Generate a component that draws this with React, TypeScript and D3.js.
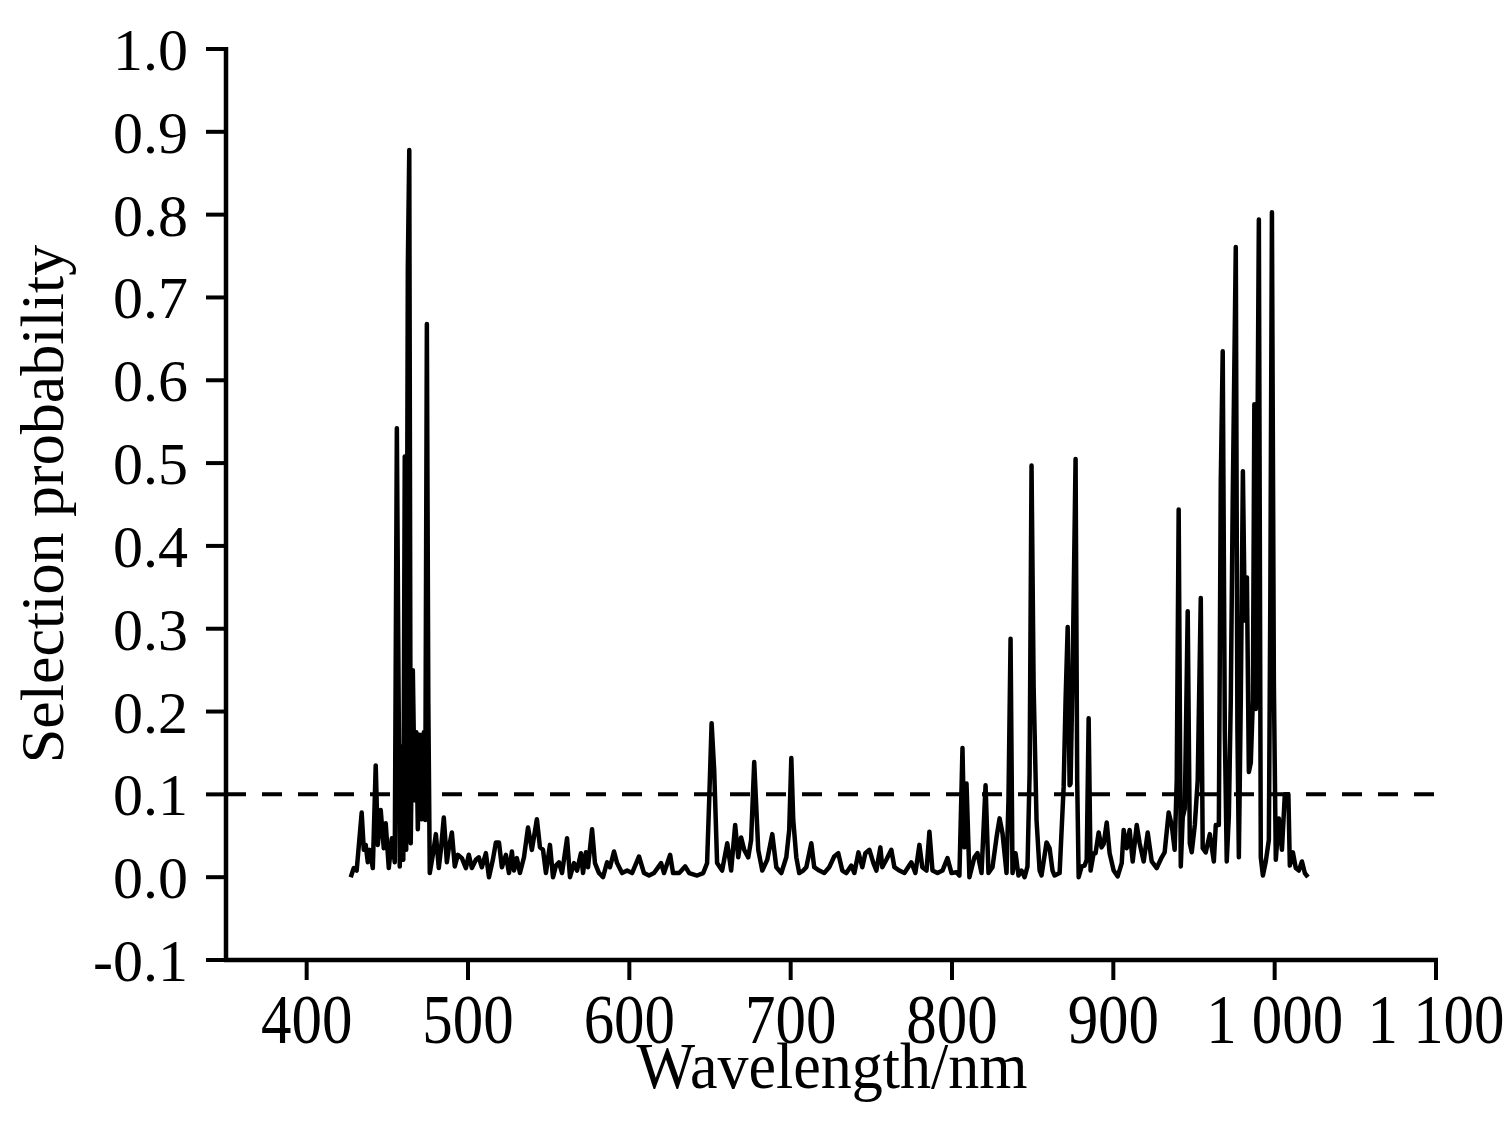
import React from "react";
import * as d3 from "d3";

const wavelengths: number[] = [
  427.3, 429.2, 431.0, 434.1, 435.4, 436.6, 437.9, 439.1, 441.0, 442.8, 444.1, 445.9, 447.8, 449.0, 450.9, 452.8, 454.6, 455.9, 457.7, 459.0,
  459.9, 460.8, 461.7, 462.7, 463.6, 464.5, 465.8, 467.0, 468.0, 468.9, 470.1, 471.4, 472.6, 473.5, 474.5, 475.4, 476.3, 478.2, 480.1, 481.9,
  483.2, 485.0, 486.9, 488.1, 490.0, 491.8, 493.7, 496.2, 498.7, 500.5, 502.4, 504.9, 506.7, 508.6, 511.1, 513.0, 515.4, 517.3, 519.2, 521.0,
  523.5, 525.4, 527.2, 528.5, 530.3, 532.2, 534.7, 537.2, 539.6, 542.7, 544.6, 546.5, 548.3, 550.8, 552.7, 554.5, 556.4, 558.3, 561.4, 563.2,
  565.7, 567.6, 570.0, 571.3, 573.1, 574.4, 576.9, 578.7, 581.2, 583.7, 586.2, 588.0, 590.5, 592.4, 595.5, 598.6, 601.7, 606.0, 609.1, 612.2,
  615.3, 619.7, 621.5, 625.3, 627.1, 630.9, 634.6, 637.1, 642.0, 645.8, 648.2, 649.5, 651.0, 652.6, 654.4, 657.5, 660.7, 663.1, 665.6, 667.5,
  669.3, 671.2, 673.7, 675.5, 677.4, 679.9, 682.4, 685.5, 688.6, 691.1, 694.2, 697.3, 699.1, 700.4, 701.6, 703.5, 705.3, 707.8, 709.7, 712.8,
  714.6, 717.7, 720.8, 723.9, 727.0, 729.5, 732.0, 734.5, 737.6, 739.5, 742.0, 744.4, 746.3, 748.8, 751.3, 753.1, 755.6, 756.8, 759.3, 762.4,
  764.3, 767.4, 770.5, 774.8, 777.3, 779.8, 781.6, 784.2, 786.0, 787.9, 791.0, 794.1, 797.2, 799.7, 802.8, 804.6, 806.5, 807.7, 809.0, 810.8,
  813.9, 815.8, 818.3, 820.8, 822.6, 825.1, 827.6, 829.5, 831.3, 833.8, 835.0, 836.3, 837.5, 839.4, 841.2, 843.1, 845.0, 846.8, 848.1, 849.3,
  850.6, 852.4, 854.3, 855.5, 858.6, 860.5, 862.3, 863.6, 866.7, 869.2, 870.4, 871.7, 872.9, 873.5, 874.8, 876.6, 877.6, 878.5, 880.4, 882.2,
  883.5, 884.7, 885.9, 887.8, 889.0, 890.9, 892.7, 894.0, 895.9, 897.7, 900.2, 902.7, 905.2, 906.4, 908.3, 910.1, 912.0, 914.5, 916.3, 918.8,
  921.3, 923.8, 926.9, 930.0, 931.8, 934.3, 936.2, 938.0, 939.3, 940.5, 941.8, 943.0, 944.3, 946.1, 947.4, 948.6, 950.5, 952.3, 954.2, 955.4,
  957.3, 959.8, 962.3, 963.5, 965.4, 966.6, 967.8, 969.1, 970.3, 971.6, 972.8, 974.0, 975.9, 976.9, 977.8, 979.0, 980.3, 981.5, 982.8, 984.0,
  985.2, 986.5, 987.4, 988.3, 990.2, 991.4, 992.7, 994.5, 996.4, 997.3, 998.3, 999.5, 1000.7, 1002.6, 1004.5, 1006.3, 1008.5, 1009.4, 1011.3, 1013.1,
  1015.0, 1016.9, 1018.7, 1020.6,
];

const probabilities: number[] = [
  0.0, 0.011, 0.008, 0.078, 0.033, 0.039, 0.018, 0.033, 0.011, 0.135, 0.039, 0.081, 0.035, 0.065, 0.011, 0.047, 0.018, 0.542, 0.013, 0.158,
  0.021, 0.508, 0.033, 0.735, 0.878, 0.041, 0.25, 0.093, 0.175, 0.058, 0.172, 0.07, 0.175, 0.069, 0.668, 0.213, 0.005, 0.027, 0.052, 0.011,
  0.033, 0.072, 0.018, 0.035, 0.054, 0.013, 0.027, 0.023, 0.011, 0.027, 0.011, 0.021, 0.024, 0.012, 0.029, 0.0, 0.021, 0.042, 0.042, 0.012,
  0.027, 0.005, 0.031, 0.008, 0.023, 0.005, 0.024, 0.06, 0.033, 0.07, 0.036, 0.033, 0.005, 0.039, 0.0, 0.014, 0.018, 0.005, 0.047, 0.0,
  0.017, 0.008, 0.029, 0.005, 0.03, 0.012, 0.058, 0.017, 0.005, 0.0, 0.018, 0.012, 0.031, 0.017, 0.005, 0.008, 0.005, 0.025, 0.005, 0.002,
  0.005, 0.017, 0.005, 0.027, 0.005, 0.005, 0.013, 0.005, 0.002, 0.005, 0.017, 0.093, 0.186, 0.129, 0.017, 0.008, 0.041, 0.008, 0.063, 0.024,
  0.048, 0.033, 0.024, 0.045, 0.139, 0.033, 0.008, 0.021, 0.052, 0.012, 0.005, 0.024, 0.057, 0.144, 0.069, 0.024, 0.005, 0.008, 0.012, 0.041,
  0.012, 0.008, 0.005, 0.012, 0.025, 0.029, 0.008, 0.005, 0.014, 0.005, 0.03, 0.012, 0.029, 0.033, 0.017, 0.008, 0.036, 0.012, 0.021, 0.033,
  0.012, 0.008, 0.005, 0.018, 0.005, 0.039, 0.012, 0.008, 0.055, 0.008, 0.005, 0.008, 0.023, 0.005, 0.006, 0.002, 0.156, 0.036, 0.113, 0.0,
  0.024, 0.029, 0.005, 0.111, 0.005, 0.012, 0.048, 0.071, 0.053, 0.005, 0.093, 0.288, 0.005, 0.029, 0.002, 0.008, 0.0, 0.013, 0.125, 0.497,
  0.229, 0.069, 0.008, 0.002, 0.042, 0.035, 0.008, 0.002, 0.005, 0.109, 0.214, 0.302, 0.111, 0.113, 0.252, 0.505, 0.117, 0.0, 0.013, 0.014,
  0.021, 0.192, 0.008, 0.029, 0.029, 0.054, 0.036, 0.04, 0.066, 0.029, 0.008, 0.001, 0.017, 0.057, 0.035, 0.057, 0.019, 0.063, 0.041, 0.019,
  0.054, 0.019, 0.011, 0.024, 0.03, 0.078, 0.063, 0.033, 0.117, 0.444, 0.013, 0.072, 0.083, 0.321, 0.041, 0.03, 0.063, 0.117, 0.337, 0.035,
  0.03, 0.052, 0.019, 0.063, 0.063, 0.478, 0.635, 0.176, 0.019, 0.074, 0.214, 0.455, 0.761, 0.181, 0.024, 0.214, 0.49, 0.31, 0.362, 0.127,
  0.138, 0.214, 0.571, 0.203, 0.794, 0.024, 0.002, 0.019, 0.045, 0.334, 0.803, 0.235, 0.021, 0.071, 0.033, 0.1, 0.1, 0.014, 0.03, 0.011,
  0.008, 0.019, 0.005, 0.0,
];

const xTicks: number[] = [400, 500, 600, 700, 800, 900, 1000, 1100];
const xTickLabels: string[] = ["400", "500", "600", "700", "800", "900", "1 000", "1 100"];
const yTicks: number[] = [-0.1, 0.0, 0.1, 0.2, 0.3, 0.4, 0.5, 0.6, 0.7, 0.8, 0.9, 1.0];
const threshold = 0.1;

const W = 1506;
const H = 1131;
const FONT = "'Liberation Serif', 'Times New Roman', Times, serif";

export default function App() {
  const x = d3.scaleLinear().domain([350, 1100]).range([226, 1436]);
  const y = d3.scaleLinear().domain([-0.1, 1.0]).range([960, 49]);

  const data = wavelengths.map((w, i) => [w, probabilities[i]] as [number, number]);
  const linePath =
    d3
      .line<[number, number]>()
      .x((d) => x(d[0]))
      .y((d) => y(d[1]))(data) || "";

  const x0 = x(350);
  const x1 = x(1100);
  const yBottom = y(-0.1);
  const yTop = y(1.0);

  return (
    <svg
      width={W}
      height={H}
      viewBox={`0 0 ${W} ${H}`}
      style={{ position: "absolute", left: 0, top: 0, background: "#fff" }}
    >
      <rect x={0} y={0} width={W} height={H} fill="#fff" />
      <line
        x1={x0}
        x2={x1}
        y1={y(threshold)}
        y2={y(threshold)}
        stroke="#000"
        strokeWidth={4}
        strokeDasharray="20 16"
      />
      <path d={linePath} fill="none" stroke="#000" strokeWidth={4.5} strokeLinejoin="round" />
      <line x1={x0} x2={x0} y1={yTop - 2} y2={yBottom + 2} stroke="#000" strokeWidth={4.5} />
      {yTicks.map((t) => (
        <g key={"y" + t}>
          <line x1={x0 - 20} x2={x0} y1={y(t)} y2={y(t)} stroke="#000" strokeWidth={4} />
          <text
            x={188}
            y={y(t)}
            dy="0.35em"
            textAnchor="end"
            fontFamily={FONT}
            fontSize={60}
            fill="#000"
          >
            {t.toFixed(1)}
          </text>
        </g>
      ))}
      <line x1={x0 - 2} x2={x1 + 2} y1={yBottom} y2={yBottom} stroke="#000" strokeWidth={4.5} />
      {xTicks.map((t, i) => (
        <g key={"x" + t}>
          <line x1={x(t)} x2={x(t)} y1={yBottom} y2={yBottom + 20} stroke="#000" strokeWidth={4} />
          <text
            transform={`translate(${x(t)}, 1043) scale(0.87, 1)`}
            textAnchor="middle"
            fontFamily={FONT}
            fontSize={70}
            fill="#000"
          >
            {xTickLabels[i]}
          </text>
        </g>
      ))}
      <text
        transform="translate(832, 1088) scale(0.94, 1)"
        textAnchor="middle"
        fontFamily={FONT}
        fontSize={66}
        fill="#000"
      >
        Wavelength/nm
      </text>
      <text
        transform={`translate(63, 504) rotate(-90)`}
        textAnchor="middle"
        fontFamily={FONT}
        fontSize={62}
        fill="#000"
      >
        Selection probability
      </text>
    </svg>
  );
}
